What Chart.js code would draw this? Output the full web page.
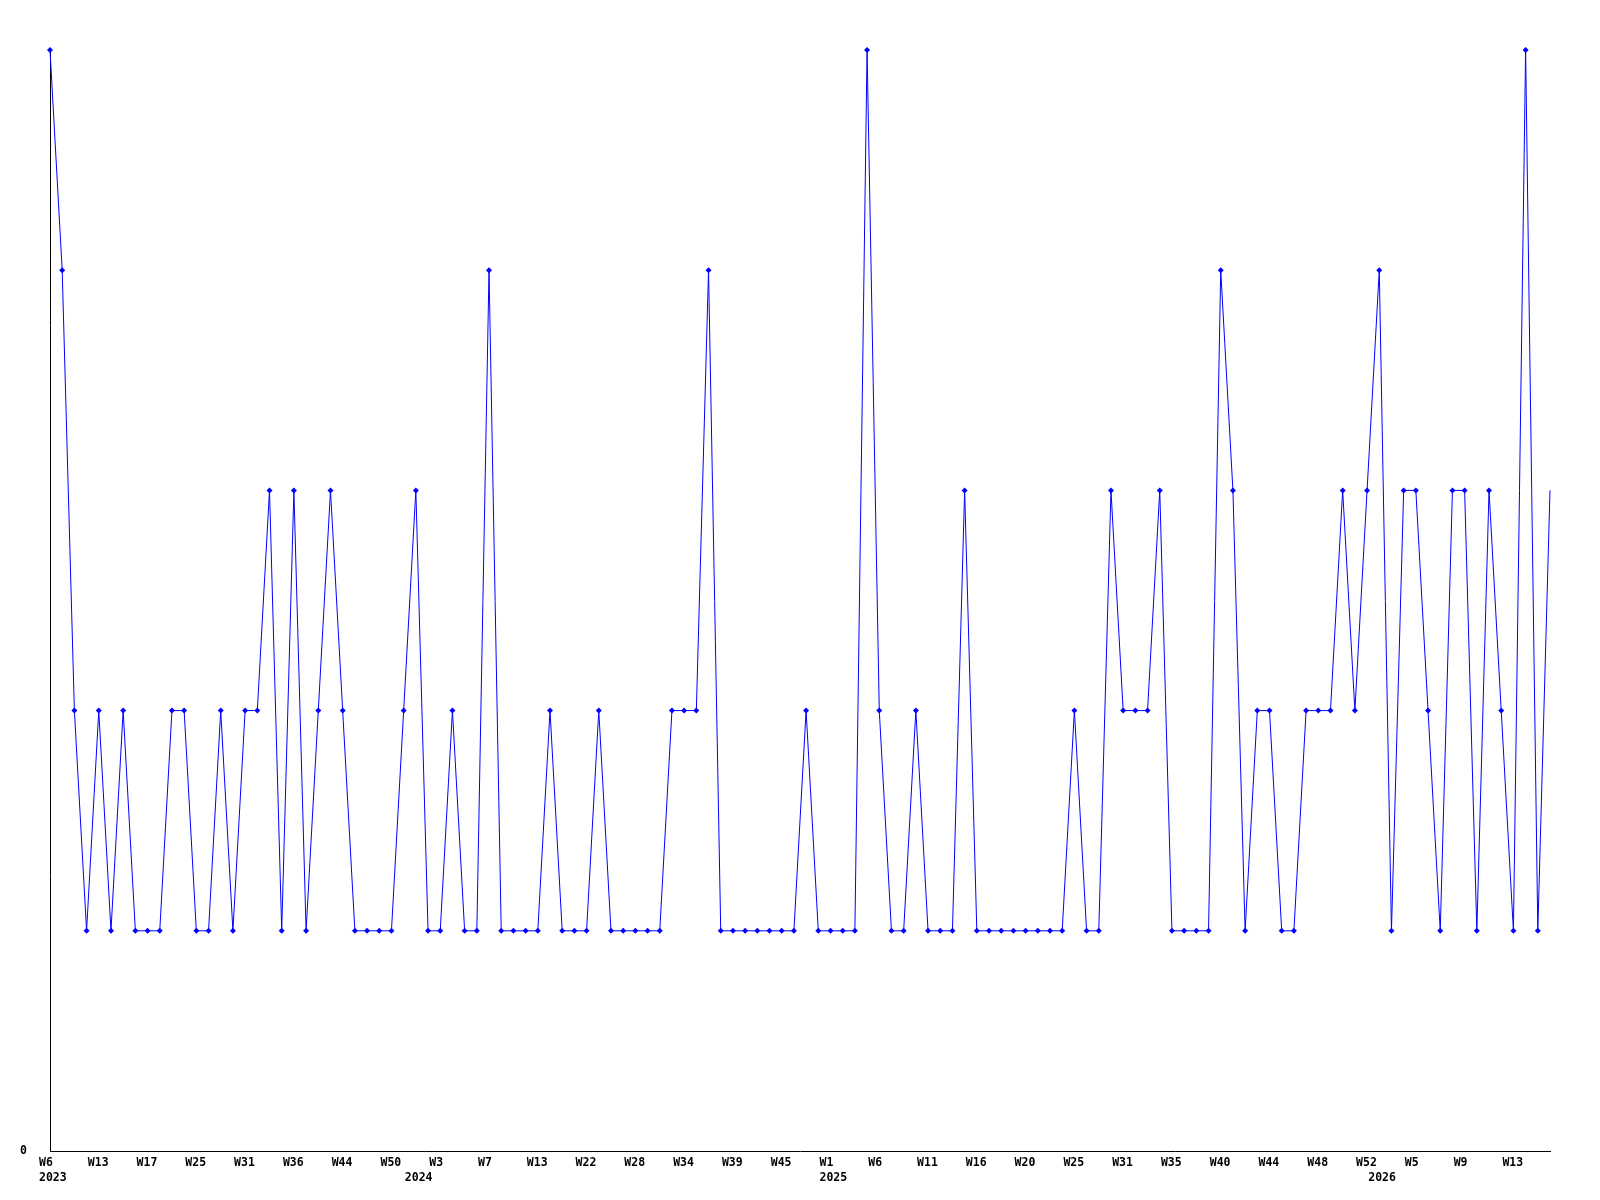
<!DOCTYPE html>
<html>
<head>
<meta charset="utf-8">
<script src="https://cdn.jsdelivr.net/npm/chart.js@4/dist/chart.umd.min.js"></script>
<style>
  body { margin: 0; background: #fff; }
</style>
</head>
<body>
<canvas id="weekly" width="1600" height="1200"></canvas>
<script>
// one value per point
var counts = [
    5, 4, 2, 1, 2, 1, 2, 1, 1, 1, 2, 2, 1, 1, 2, 1, 2, 2, 3, 1,
    3, 1, 2, 3, 2, 1, 1, 1, 1, 2, 3, 1, 1, 2, 1, 1, 4, 1, 1, 1,
    1, 2, 1, 1, 1, 2, 1, 1, 1, 1, 1, 2, 2, 2, 4, 1, 1, 1, 1, 1,
    1, 1, 2, 1, 1, 1, 1, 5, 2, 1, 1, 2, 1, 1, 1, 3, 1, 1, 1, 1,
    1, 1, 1, 1, 2, 1, 1, 3, 2, 2, 2, 3, 1, 1, 1, 1, 4, 3, 1, 2,
    2, 1, 1, 2, 2, 2, 3, 2, 3, 4, 1, 3, 3, 2, 1, 3, 3, 1, 3, 2,
    1, 5, 1, 3
];

// week labels shown under every 4th point
var weekTicks = [
    'W6', 'W13', 'W17', 'W25', 'W31', 'W36', 'W44', 'W50',
    'W3', 'W7', 'W13', 'W22', 'W28', 'W34', 'W39', 'W45',
    'W1', 'W6', 'W11', 'W16', 'W20', 'W25', 'W31', 'W35',
    'W40', 'W44', 'W48', 'W52', 'W5', 'W9', 'W13'
];
var tickEvery = 4;

// first point of each year gets the year under it
var years = ['2023', '2024', '2025', '2026'];
var yearStart = [0, 30, 64, 109];

var categories = [];
for (let i = 0; i < counts.length; i++) {
    categories.push(i % tickEvery === 0 ? weekTicks[i / tickEvery] : '');
}

var tickFont = { family: 'DejaVu Sans Mono', size: 11.5, weight: 'bold', lineHeight: 1.35 };

var ctx = document.getElementById('weekly');
var chart = new Chart(ctx, {
    type: 'line',
    data: {
        labels: categories,
        datasets: [{
            data: counts,
            borderColor: '#0000ff',
            backgroundColor: '#0000ff',
            borderWidth: 1,
            tension: 0,
            pointStyle: 'rectRot',
            pointRadius: c => (c.dataIndex === counts.length - 1 ? 0 : 3),
            pointBorderWidth: 0,
            clip: false
        }]
    },
    options: {
        responsive: false,
        animation: false,
        layout: { padding: { top: 50, right: 50, left: 0, bottom: 0 } },
        plugins: {
            legend: { display: false },
            tooltip: { enabled: false }
        },
        scales: {
            x: {
                offset: false,
                grid: { display: false, drawTicks: false },
                border: { display: true, color: '#000', width: 1 },
                afterFit: s => { s.height = 49; },
                ticks: {
                    autoSkip: false,
                    maxRotation: 0,
                    minRotation: 0,
                    align: 'start',
                    labelOffset: -11,
                    padding: 4,
                    color: '#000',
                    font: tickFont,
                    callback: function (value, index) {
                        var week = categories[index];
                        var y = yearStart.indexOf(index);
                        return [week, y >= 0 ? years[y] : ''];
                    }
                }
            },
            y: {
                min: 0,
                max: 5,
                grid: { display: false, drawTicks: false },
                border: { display: true, color: '#000', width: 1 },
                afterFit: s => { s.width = 50; },
                ticks: {
                    stepSize: 1,
                    padding: 23,
                    color: '#000',
                    font: tickFont,
                    callback: v => (v === 0 ? '0' : '')
                }
            }
        }
    }
});
</script>
</body>
</html>
